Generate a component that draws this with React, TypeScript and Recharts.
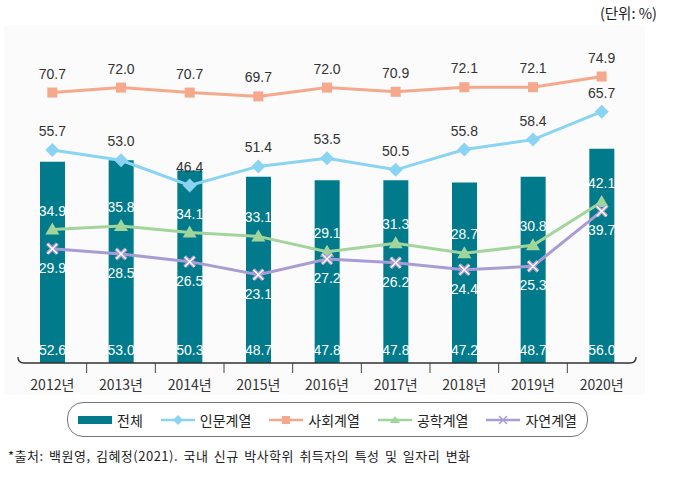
import React from "react";
import { ComposedChart, Bar, Line, XAxis, YAxis, LabelList } from "recharts";

const years = ["2012년", "2013년", "2014년", "2015년", "2016년", "2017년", "2018년", "2019년", "2020년"];
const total = [52.6, 53.0, 50.3, 48.7, 47.8, 47.8, 47.2, 48.7, 56.0];
const humanities = [55.7, 53.0, 46.4, 51.4, 53.5, 50.5, 55.8, 58.4, 65.7];
const social = [70.7, 72.0, 70.7, 69.7, 72.0, 70.9, 72.1, 72.1, 74.9];
const engineering = [34.9, 35.8, 34.1, 33.1, 29.1, 31.3, 28.7, 30.8, 42.1];
const natural = [29.9, 28.5, 26.5, 23.1, 27.2, 26.2, 24.4, 25.3, 39.7];

const data = years.map((year, i) => ({
  year,
  total: total[i],
  humanities: humanities[i],
  social: social[i],
  engineering: engineering[i],
  natural: natural[i],
}));

const W = 689;
const H = 481;
const M = { top: 57, right: 53, left: 18, bottom: 81 };
const BAND = (W - M.left - M.right) / years.length;

const TEAL = "#017b8b";
const BLUE = "#8ad4f3";
const ORANGE = "#f6a88c";
const GREEN = "#a2d59c";
const PURPLE = "#a99cd5";

const NUM_FONT = '"Liberation Sans", Arial, sans-serif';
const KR_FONT = '"Noto Sans CJK KR", "Liberation Sans", sans-serif';

const fmt = (v: any) => Number(v).toFixed(1);

const Diamond = (p: any) => {
  const { cx, cy } = p;
  if (cx == null || cy == null) return null;
  return <polygon points={`${cx},${cy - 7} ${cx + 7},${cy} ${cx},${cy + 7} ${cx - 7},${cy}`} fill={BLUE} />;
};
const Square = (p: any) => {
  const { cx, cy } = p;
  if (cx == null || cy == null) return null;
  return <rect x={cx - 5} y={cy - 5} width={10} height={10} fill={ORANGE} />;
};
const Triangle = (p: any) => {
  const { cx, cy } = p;
  if (cx == null || cy == null) return null;
  return <polygon points={`${cx},${cy - 7} ${cx + 7},${cy + 5} ${cx - 7},${cy + 5}`} fill={GREEN} />;
};
const Cross = (p: any) => {
  const { cx, cy } = p;
  if (cx == null || cy == null) return null;
  const d = `M${cx - 5},${cy - 5} L${cx + 5},${cy + 5} M${cx + 5},${cy - 5} L${cx - 5},${cy + 5}`;
  return (
    <g>
      <path d={d} stroke={PURPLE} strokeWidth={4} />
      <path d={d} stroke="#fff" strokeWidth={1.4} />
    </g>
  );
};

const YearTick = (props: any) => {
  const { x, y, payload, index } = props;
  const left = x - BAND / 2;
  const right = left + BAND * years.length;
  return (
    <g>
      {index === 0 && (
        <path
          d={`M${left},${y - 6} Q${left},${y} ${left + 6},${y} L${right - 6},${y} Q${right},${y} ${right},${y - 6}`}
          stroke="#333"
          strokeWidth={1.4}
          fill="none"
        />
      )}
      {index < years.length - 1 && (
        <line x1={x + BAND / 2} x2={x + BAND / 2} y1={y} y2={y + 10} stroke="#444" strokeWidth={1} />
      )}
      <text x={x} y={y + 27} textAnchor="middle" fontSize={14} fill="#333" fontFamily={KR_FONT}>
        {payload.value}
      </text>
    </g>
  );
};

const legendItems = [
  { name: "전체", color: TEAL, kind: "bar" },
  { name: "인문계열", color: BLUE, kind: "diamond" },
  { name: "사회계열", color: ORANGE, kind: "square" },
  { name: "공학계열", color: GREEN, kind: "triangle" },
  { name: "자연계열", color: PURPLE, kind: "cross" },
];

const LegendIcon = ({ color, kind }: { color: string; kind: string }) => (
  <svg width={34} height={12} style={{ display: "block" }}>
    {kind === "bar" ? (
      <rect x={0} y={2} width={34} height={8} fill={color} />
    ) : (
      <g>
        <line x1={0} x2={34} y1={6} y2={6} stroke={color} strokeWidth={2.5} />
        {kind === "diamond" && <polygon points="17,1 22,6 17,11 12,6" fill={color} />}
        {kind === "square" && <rect x={13} y={2} width={8} height={8} fill={color} />}
        {kind === "triangle" && <polygon points="17,2 22,9 12,9" fill={color} />}
        {kind === "cross" && (
          <path d="M13,2 L21,10 M21,2 L13,10" stroke={color} strokeWidth={1.5} />
        )}
      </g>
    )}
  </svg>
);

export default function App() {
  return (
    <div style={{ position: "absolute", left: 0, top: 0, width: W, height: H, background: "#fff", fontFamily: KR_FONT }}>
      <div style={{ position: "absolute", left: 4, top: 25, width: 641, height: 370, background: "#fbfbfb" }} />
      <div style={{ position: "absolute", right: 32, top: 2, fontSize: 14.5, color: "#222" }}>(단위: %)</div>
      <div style={{ position: "absolute", left: 0, top: 0 }}>
        <ComposedChart width={W} height={H} data={data} margin={M}>
          <XAxis
            dataKey="year"
            height={37}
            axisLine={false}
            tickLine={false}
            tickSize={0}
            tickMargin={0}
            interval={0}
            tick={<YearTick />}
          />
          <YAxis hide domain={[0, 80]} />
          <Bar dataKey="total" fill={TEAL} barSize={25} isAnimationActive={false}>
            <LabelList
              dataKey="total"
              position="insideBottom"
              offset={8}
              formatter={fmt}
              fill="#fff"
              fontSize={14}
              fontFamily={NUM_FONT}
            />
          </Bar>
          <Line dataKey="social" stroke={ORANGE} strokeWidth={3} dot={<Square />} activeDot={false} isAnimationActive={false}>
            <LabelList dataKey="social" position="top" offset={14} formatter={fmt} fill="#333" fontSize={14} fontFamily={NUM_FONT} />
          </Line>
          <Line dataKey="humanities" stroke={BLUE} strokeWidth={3} dot={<Diamond />} activeDot={false} isAnimationActive={false}>
            <LabelList dataKey="humanities" position="top" offset={14} formatter={fmt} fill="#333" fontSize={14} fontFamily={NUM_FONT} />
          </Line>
          <Line dataKey="engineering" stroke={GREEN} strokeWidth={3} dot={<Triangle />} activeDot={false} isAnimationActive={false}>
            <LabelList dataKey="engineering" position="top" offset={14} formatter={fmt} fill="#fff" fontSize={14} fontFamily={NUM_FONT} />
          </Line>
          <Line dataKey="natural" stroke={PURPLE} strokeWidth={3} dot={<Cross />} activeDot={false} isAnimationActive={false}>
            <LabelList dataKey="natural" position="bottom" offset={14} formatter={fmt} fill="#fff" fontSize={14} fontFamily={NUM_FONT} />
          </Line>
        </ComposedChart>
      </div>
      <div
        style={{
          position: "absolute",
          left: 67,
          top: 402,
          width: 521,
          height: 35,
          boxSizing: "border-box",
          border: "1px solid #777",
          borderRadius: 16,
          display: "flex",
          alignItems: "center",
          justifyContent: "center",
          gap: 18,
          background: "#fff",
        }}
      >
        {legendItems.map((it) => (
          <div key={it.name} style={{ display: "flex", alignItems: "center", gap: 5, fontSize: 14, color: "#222" }}>
            <LegendIcon color={it.color} kind={it.kind} />
            <span>{it.name}</span>
          </div>
        ))}
      </div>
      <div
        style={{
          position: "absolute",
          left: 8,
          top: 446,
          fontSize: 13,
          color: "#222",
          whiteSpace: "nowrap",
          letterSpacing: 0.5,
          wordSpacing: 2,
        }}
      >
        *출처: 백원영, 김혜정(2021). 국내 신규 박사학위 취득자의 특성 및 일자리 변화
      </div>
    </div>
  );
}
